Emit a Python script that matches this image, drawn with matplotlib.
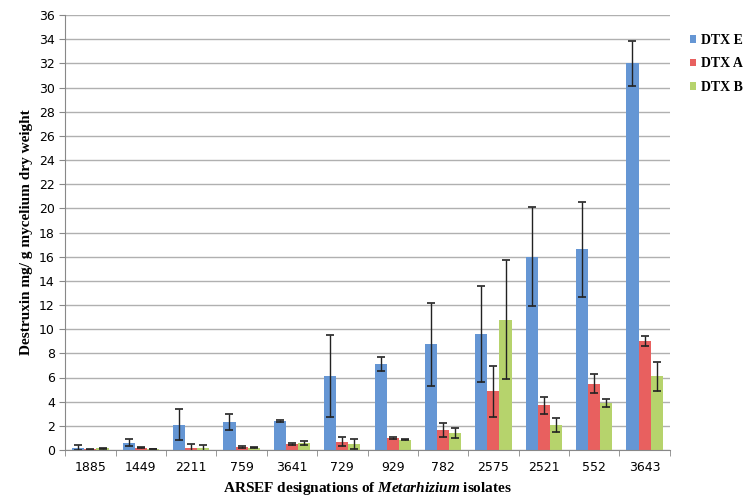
import numpy as np
import matplotlib.pyplot as plt

isolates = ['1885', '1449', '2211', '759', '3641', '729', '929', '782', '2575', '2521', '552', '3643']
dtx_e = [0.2, 0.6, 2.1, 2.3, 2.4, 6.1, 7.1, 8.75, 9.6, 16.0, 16.6, 32.0]
dtx_e_err = [0.2, 0.3, 1.3, 0.65, 0.1, 3.4, 0.6, 3.45, 4.0, 4.1, 3.95, 1.85]
dtx_a = [0.05, 0.2, 0.2, 0.25, 0.5, 0.7, 1.0, 1.65, 4.85, 3.7, 5.5, 9.0]
dtx_a_err = [0.02, 0.05, 0.3, 0.05, 0.1, 0.35, 0.05, 0.55, 2.1, 0.7, 0.75, 0.4]
dtx_b = [0.15, 0.1, 0.15, 0.2, 0.6, 0.5, 0.85, 1.4, 10.8, 2.05, 3.9, 6.1]
dtx_b_err = [0.05, 0.02, 0.3, 0.05, 0.15, 0.4, 0.05, 0.4, 4.95, 0.6, 0.33, 1.2]

series = [('DTX E', dtx_e, dtx_e_err, '#6596d4'),
          ('DTX A', dtx_a, dtx_a_err, '#e8605f'),
          ('DTX B', dtx_b, dtx_b_err, '#b6d36c')]

plt.rcParams['mathtext.fontset'] = 'custom'
plt.rcParams['mathtext.it'] = 'Liberation Serif:italic:bold'
plt.rcParams['mathtext.rm'] = 'Liberation Serif:bold'

fig = plt.figure(figsize=(7.5, 5), dpi=100)
ax = fig.add_axes([0.087, 0.1, 0.806, 0.87])

x = np.arange(len(isolates))
w = 0.24
for i, (name, vals, errs, col) in enumerate(series):
    ax.bar(x + (i - 1) * w, vals, w, color=col, label=name, zorder=2,
           yerr=errs, error_kw=dict(ecolor='#222222', elinewidth=1, capsize=3, capthick=1.2))

ax.set_xlim(-0.5, len(isolates) - 0.5)
ax.set_ylim(0, 36)
ax.set_yticks(range(0, 37, 2))
ax.yaxis.grid(True, color='#b0b0b0', linewidth=1)
ax.set_axisbelow(True)
ax.set_xticks(x)
ax.set_xticklabels(isolates)
ax.set_xticks(np.arange(-0.5, len(isolates)), minor=True)
ax.tick_params(axis='x', which='major', length=0, labelsize=9, pad=8)
ax.tick_params(axis='x', which='minor', length=4, color='#888888')
ax.tick_params(axis='y', length=4, color='#888888', labelsize=9)
for s in ['top', 'right']:
    ax.spines[s].set_visible(False)
ax.spines['left'].set_color('#888888')
ax.spines['bottom'].set_color('#888888')

ax.set_ylabel('Destruxin mg/ g mycelium dry weight', family='Liberation Serif',
              fontweight='bold', fontsize=11)
ax.set_xlabel(r'ARSEF designations of $\it{Metarhizium}$ isolates',
              family='Liberation Serif', fontweight='bold', fontsize=11)

leg = ax.legend(loc='upper left', bbox_to_anchor=(1.012, 0.985), frameon=False,
                handlelength=0.5, handleheight=0.5, handletextpad=0.3,
                labelspacing=0.75, prop={'family': 'Liberation Serif', 'weight': 'bold', 'size': 10})

fig.savefig('out.png')
